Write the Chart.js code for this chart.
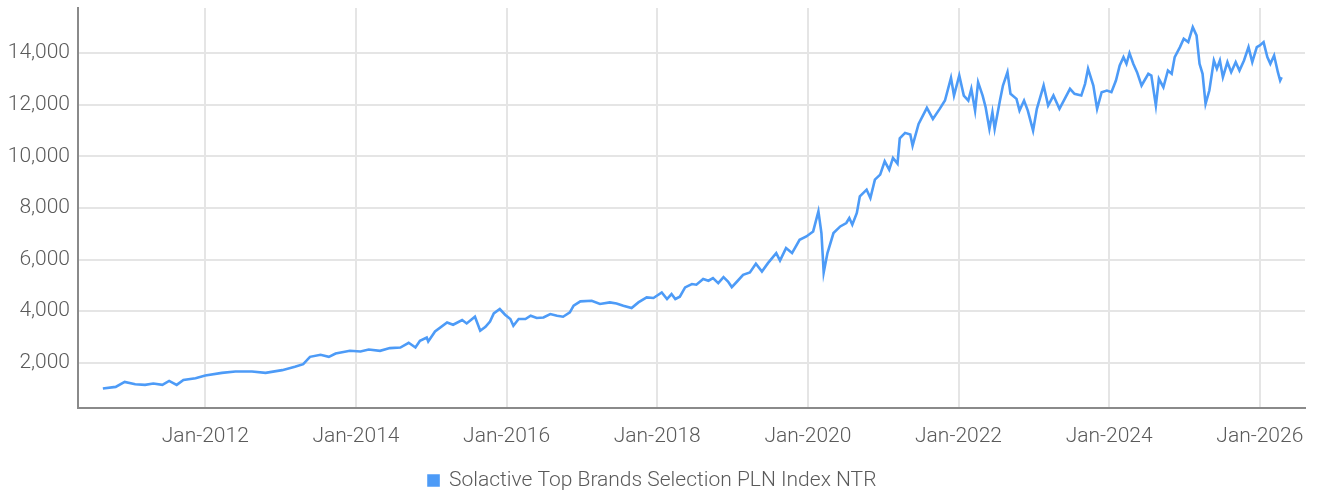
<!DOCTYPE html>
<html>
<head>
<meta charset="utf-8">
<script src="https://cdn.jsdelivr.net/npm/chart.js@4.4.1/dist/chart.umd.min.js"></script>
<style>
  html, body { margin: 0; padding: 0; background: #fff; }
  #wrap { width: 1317px; height: 493px; }
</style>
</head>
<body>
<div id="wrap"><canvas id="indexChart" width="1317" height="493"></canvas></div>
<script>
// dates as decimal years
const dates = [
    2010.64, 2010.81, 2010.93, 2011.07, 2011.20, 2011.31, 2011.43, 2011.52, 2011.62, 2011.71,
    2011.87, 2012.00, 2012.22, 2012.40, 2012.62, 2012.80, 2013.02, 2013.19, 2013.30, 2013.39,
    2013.53, 2013.64, 2013.73, 2013.92, 2014.06, 2014.17, 2014.32, 2014.45, 2014.59, 2014.70,
    2014.79, 2014.85, 2014.94, 2014.96, 2015.05, 2015.21, 2015.29, 2015.41, 2015.47, 2015.58,
    2015.65, 2015.72, 2015.78, 2015.83, 2015.91, 2015.98, 2016.05, 2016.09, 2016.16, 2016.25,
    2016.32, 2016.40, 2016.49, 2016.58, 2016.67, 2016.75, 2016.84, 2016.89, 2016.98, 2017.13,
    2017.24, 2017.37, 2017.46, 2017.55, 2017.66, 2017.75, 2017.86, 2017.95, 2018.06, 2018.13,
    2018.19, 2018.24, 2018.30, 2018.37, 2018.46, 2018.52, 2018.61, 2018.68, 2018.74, 2018.81,
    2018.88, 2018.94, 2018.99, 2019.06, 2019.14, 2019.23, 2019.31, 2019.39, 2019.47, 2019.58,
    2019.63, 2019.71, 2019.79, 2019.89, 2019.98, 2020.07, 2020.14, 2020.18, 2020.21, 2020.26,
    2020.34, 2020.43, 2020.51, 2020.55, 2020.59, 2020.65, 2020.69, 2020.78, 2020.83, 2020.89,
    2020.96, 2021.02, 2021.08, 2021.13, 2021.19, 2021.22, 2021.29, 2021.36, 2021.39, 2021.47,
    2021.58, 2021.66, 2021.75, 2021.82, 2021.90, 2021.94, 2022.01, 2022.07, 2022.13, 2022.17,
    2022.22, 2022.26, 2022.32, 2022.36, 2022.41, 2022.45, 2022.48, 2022.55, 2022.59, 2022.65,
    2022.69, 2022.77, 2022.81, 2022.87, 2022.92, 2022.99, 2023.04, 2023.13, 2023.19, 2023.26,
    2023.34, 2023.41, 2023.48, 2023.54, 2023.63, 2023.68, 2023.72, 2023.79, 2023.84, 2023.90,
    2023.97, 2024.03, 2024.09, 2024.14, 2024.19, 2024.23, 2024.27, 2024.32, 2024.37, 2024.43,
    2024.52, 2024.56, 2024.62, 2024.66, 2024.72, 2024.78, 2024.83, 2024.87, 2024.94, 2024.99,
    2025.05, 2025.11, 2025.16, 2025.20, 2025.24, 2025.28, 2025.33, 2025.39, 2025.43, 2025.47,
    2025.51, 2025.57, 2025.62, 2025.68, 2025.73, 2025.79, 2025.85, 2025.90, 2025.96, 2026.00,
    2026.05, 2026.10, 2026.14, 2026.19, 2026.24, 2026.27, 2026.29
];

const indexValues = [
    1003, 1068, 1262, 1173, 1146, 1197, 1146, 1301, 1146, 1340,
    1406, 1507, 1612, 1662, 1662, 1612, 1717, 1845, 1950, 2233,
    2311, 2233, 2361, 2466, 2439, 2516, 2466, 2571, 2594, 2777,
    2594, 2854, 2982, 2827, 3215, 3565, 3476, 3658, 3526, 3786,
    3243, 3398, 3603, 3914, 4085, 3864, 3697, 3437, 3697, 3697,
    3825, 3736, 3759, 3891, 3825, 3786, 3953, 4213, 4381, 4407,
    4279, 4341, 4302, 4213, 4124, 4341, 4535, 4512, 4729, 4473,
    4667, 4473, 4562, 4923, 5054, 5027, 5248, 5182, 5283, 5089,
    5322, 5152, 4935, 5152, 5410, 5500, 5838, 5539, 5864, 6253,
    5966, 6447, 6253, 6770, 6898, 7092, 7868, 7030, 5500, 6253,
    7030, 7286, 7418, 7612, 7352, 7806, 8451, 8711, 8389, 9099,
    9293, 9810, 9487, 9941, 9720, 10700, 10911, 10845, 10417, 11258,
    11880, 11453, 11841, 12163, 13044, 12357, 13134, 12357, 12163, 12617,
    11775, 12875, 12357, 11904, 11065, 11710, 11065, 12163, 12746, 13262,
    12424, 12229, 11775, 12163, 11775, 10998, 11841, 12746, 11969, 12357,
    11841, 12229, 12617, 12424, 12357, 12812, 13394, 12746, 11841, 12488,
    12551, 12488, 12941, 13523, 13846, 13588, 14000, 13588, 13262, 12746,
    13199, 13134, 11969, 13005, 12680, 13328, 13199, 13846, 14234, 14560,
    14428, 15010, 14688, 13588, 13199, 12035, 12551, 13717, 13394, 13717,
    13070, 13652, 13262, 13652, 13328, 13717, 14234, 13652, 14234, 14300,
    14428, 13846, 13588, 13911, 13262, 12941, 13070
];

const xTickValues = [2012, 2014, 2016, 2018, 2020, 2022, 2024, 2026];
const xTickLabels = ['Jan-2012', 'Jan-2014', 'Jan-2016', 'Jan-2018', 'Jan-2020', 'Jan-2022', 'Jan-2024', 'Jan-2026'];
const yTickValues = [2000, 4000, 6000, 8000, 10000, 12000, 14000];

const seriesName = 'Solactive Top Brands Selection PLN Index NTR';

const fontFamily = "Roboto, sans-serif";
const textColor = '#5a5a5a';

const ctx = document.getElementById('indexChart').getContext('2d');

new Chart(ctx, {
    type: 'line',
    data: {
        datasets: [
            {
                label: seriesName,
                data: dates.map((d, i) => ({ x: d, y: indexValues[i] })),
                borderColor: '#4d9bf7',
                backgroundColor: '#4d9bf7',
                borderWidth: 2.6,
                tension: 0,
                pointRadius: 0,
                fill: false
            }
        ]
    },
    options: {
        responsive: false,
        animation: false,
        layout: {
            padding: { left: 0, right: 12, top: 8, bottom: -8 }
        },
        plugins: {
            tooltip: { enabled: false },
            legend: {
                display: true,
                position: 'bottom',
                labels: {
                    color: textColor,
                    boxWidth: 10,
                    boxHeight: 10,
                    padding: 2,
                    font: { family: fontFamily, size: 21, weight: 300 }
                }
            }
        },
        scales: {
            x: {
                type: 'linear',
                min: 2010.31,
                max: 2026.6,
                afterBuildTicks: scale => {
                    scale.ticks = xTickValues.map(v => ({ value: v }));
                },
                afterFit: scale => {
                    scale.height = 60;
                    scale.paddingLeft = 0;
                    scale.paddingRight = 0;
                },
                ticks: {
                    color: textColor,
                    padding: 16,
                    maxRotation: 0,
                    autoSkip: false,
                    font: { family: fontFamily, size: 21, weight: 300 },
                    callback: value => xTickLabels[xTickValues.indexOf(value)]
                },
                grid: {
                    color: '#e5e5e5',
                    lineWidth: 2,
                    drawTicks: false
                },
                border: { color: '#8a8a8a', width: 2 }
            },
            y: {
                min: 250,
                max: 15750,
                afterBuildTicks: scale => {
                    scale.ticks = yTickValues.map(v => ({ value: v }));
                },
                afterFit: scale => {
                    scale.width = 78;
                    scale.paddingTop = 0;
                    scale.paddingBottom = 0;
                },
                ticks: {
                    color: textColor,
                    padding: 8,
                    font: { family: fontFamily, size: 21, weight: 300 },
                    callback: value => value.toLocaleString('en-US')
                },
                grid: {
                    color: '#e5e5e5',
                    lineWidth: 2,
                    drawTicks: false
                },
                border: { color: '#8a8a8a', width: 2 }
            }
        }
    }
});
</script>
</body>
</html>
